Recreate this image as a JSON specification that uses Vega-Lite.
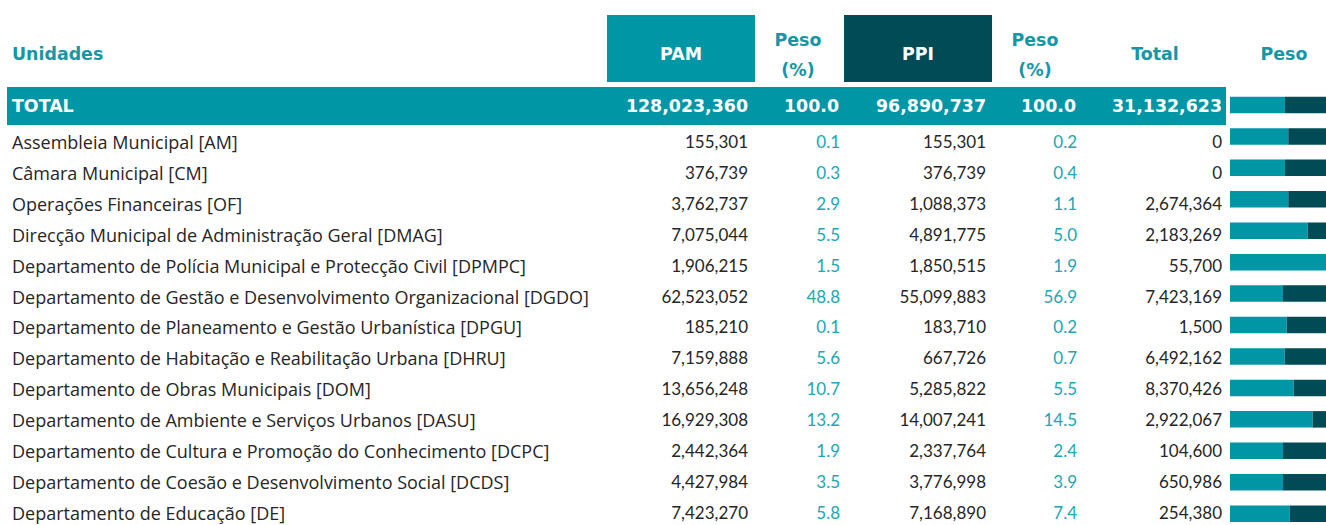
{
  "$schema": "https://vega.github.io/schema/vega-lite/v6.json",
  "padding": 0,
  "spacing": 0,
  "background": "white",
  "config": {"view": {"stroke": null}, "text": {"font": "Lato"}},
  "datasets": {
    "rows": [
      {"n": 0, "name": "TOTAL", "PAM": 128023360, "pesoPAM": 100.0, "PPI": 96890737, "pesoPPI": 100.0, "Total": 31132623, "pamPart": 57.3, "ppiPart": 42.7},
      {"n": 1, "name": "Assembleia Municipal [AM]", "PAM": 155301, "pesoPAM": 0.1, "PPI": 155301, "pesoPPI": 0.2, "Total": 0, "pamPart": 60.7, "ppiPart": 39.3},
      {"n": 2, "name": "Câmara Municipal [CM]", "PAM": 376739, "pesoPAM": 0.3, "PPI": 376739, "pesoPPI": 0.4, "Total": 0, "pamPart": 57.3, "ppiPart": 42.7},
      {"n": 3, "name": "Operações Financeiras [OF]", "PAM": 3762737, "pesoPAM": 2.9, "PPI": 1088373, "pesoPPI": 1.1, "Total": 2674364, "pamPart": 60.7, "ppiPart": 39.3},
      {"n": 4, "name": "Direcção Municipal de Administração Geral [DMAG]", "PAM": 7075044, "pesoPAM": 5.5, "PPI": 4891775, "pesoPPI": 5.0, "Total": 2183269, "pamPart": 80.9, "ppiPart": 19.1},
      {"n": 5, "name": "Departamento de Polícia Municipal e Protecção Civil [DPMPC]", "PAM": 1906215, "pesoPAM": 1.5, "PPI": 1850515, "pesoPPI": 1.9, "Total": 55700, "pamPart": 100, "ppiPart": 0},
      {"n": 6, "name": "Departamento de Gestão e Desenvolvimento Organizacional [DGDO]", "PAM": 62523052, "pesoPAM": 48.8, "PPI": 55099883, "pesoPPI": 56.9, "Total": 7423169, "pamPart": 55.2, "ppiPart": 44.8},
      {"n": 7, "name": "Departamento de Planeamento e Gestão Urbanística [DPGU]", "PAM": 185210, "pesoPAM": 0.1, "PPI": 183710, "pesoPPI": 0.2, "Total": 1500, "pamPart": 59.1, "ppiPart": 40.9},
      {"n": 8, "name": "Departamento de Habitação e Reabilitação Urbana [DHRU]", "PAM": 7159888, "pesoPAM": 5.6, "PPI": 667726, "pesoPPI": 0.7, "Total": 6492162, "pamPart": 57.0, "ppiPart": 43.0},
      {"n": 9, "name": "Departamento de Obras Municipais [DOM]", "PAM": 13656248, "pesoPAM": 10.7, "PPI": 5285822, "pesoPPI": 5.5, "Total": 8370426, "pamPart": 66.4, "ppiPart": 33.6},
      {"n": 10, "name": "Departamento de Ambiente e Serviços Urbanos [DASU]", "PAM": 16929308, "pesoPAM": 13.2, "PPI": 14007241, "pesoPPI": 14.5, "Total": 2922067, "pamPart": 86.1, "ppiPart": 13.9},
      {"n": 11, "name": "Departamento de Cultura e Promoção do Conhecimento [DCPC]", "PAM": 2442364, "pesoPAM": 1.9, "PPI": 2337764, "pesoPPI": 2.4, "Total": 104600, "pamPart": 55.2, "ppiPart": 44.8},
      {"n": 12, "name": "Departamento de Coesão e Desenvolvimento Social [DCDS]", "PAM": 4427984, "pesoPAM": 3.5, "PPI": 3776998, "pesoPPI": 3.9, "Total": 650986, "pamPart": 55.2, "ppiPart": 44.8},
      {"n": 13, "name": "Departamento de Educação [DE]", "PAM": 7423270, "pesoPAM": 5.8, "PPI": 7168890, "pesoPPI": 7.4, "Total": 254380, "pamPart": 62.2, "ppiPart": 37.8}
    ],
    "one": [{"k": 1}]
  },
  "hconcat": [
    {
      "width": 1226,
      "height": 525,
      "data": {"name": "rows"},
      "layer": [
        {
          "data": {"name": "one"},
          "mark": {"type": "rect", "fill": "#0096a6"},
          "encoding": {
            "x": {"datum": 7, "type": "quantitative", "scale": {"domain": [0, 1226], "nice": false, "zero": false, "padding": 0}, "axis": null},
            "x2": {"datum": 1226},
            "y": {"datum": -0.812, "type": "quantitative", "scale": {"domain": [-3.628, 13.362], "reverse": true, "nice": false, "zero": false, "padding": 0}, "axis": null},
            "y2": {"datum": 0.4175}
          }
        },
        {
          "data": {"name": "one"},
          "mark": {"type": "rect", "fill": "#0096a6"},
          "encoding": {
            "x": {"datum": 607, "type": "quantitative"},
            "x2": {"datum": 755},
            "y": {"datum": -3.142, "type": "quantitative"},
            "y2": {"datum": -0.974}
          }
        },
        {
          "data": {"name": "one"},
          "mark": {"type": "rect", "fill": "#004b55"},
          "encoding": {
            "x": {"datum": 844, "type": "quantitative"},
            "x2": {"datum": 992},
            "y": {"datum": -3.142, "type": "quantitative"},
            "y2": {"datum": -0.974}
          }
        },
        {
          "data": {"name": "one"},
          "mark": {"type": "text", "text": "Unidades", "font": "DejaVu Sans", "align": "left", "baseline": "middle", "fontSize": 17.4, "fontWeight": "bold", "color": "#1597a5", "yOffset": 5},
          "encoding": {"x": {"datum": 12, "type": "quantitative"}, "y": {"datum": -2, "type": "quantitative"}}
        },
        {
          "data": {"name": "one"},
          "mark": {"type": "text", "text": "PAM", "font": "DejaVu Sans", "align": "center", "baseline": "middle", "fontSize": 17.4, "fontWeight": "bold", "color": "white", "yOffset": 5},
          "encoding": {"x": {"datum": 681, "type": "quantitative"}, "y": {"datum": -2, "type": "quantitative"}}
        },
        {
          "data": {"name": "one"},
          "mark": {"type": "text", "text": "PPI", "font": "DejaVu Sans", "align": "center", "baseline": "middle", "fontSize": 17.4, "fontWeight": "bold", "color": "white", "yOffset": 5},
          "encoding": {"x": {"datum": 918, "type": "quantitative"}, "y": {"datum": -2, "type": "quantitative"}}
        },
        {
          "data": {"name": "one"},
          "mark": {"type": "text", "text": ["Peso", "(%)"], "font": "DejaVu Sans", "lineHeight": 30, "align": "center", "baseline": "middle", "fontSize": 17.4, "fontWeight": "bold", "color": "#1597a5", "yOffset": -9},
          "encoding": {"x": {"datum": 798, "type": "quantitative"}, "y": {"datum": -2, "type": "quantitative"}}
        },
        {
          "data": {"name": "one"},
          "mark": {"type": "text", "text": ["Peso", "(%)"], "font": "DejaVu Sans", "lineHeight": 30, "align": "center", "baseline": "middle", "fontSize": 17.4, "fontWeight": "bold", "color": "#1597a5", "yOffset": -9},
          "encoding": {"x": {"datum": 1035, "type": "quantitative"}, "y": {"datum": -2, "type": "quantitative"}}
        },
        {
          "data": {"name": "one"},
          "mark": {"type": "text", "text": "Total", "font": "DejaVu Sans", "align": "center", "baseline": "middle", "fontSize": 17.4, "fontWeight": "bold", "color": "#1597a5", "yOffset": 5},
          "encoding": {"x": {"datum": 1155, "type": "quantitative"}, "y": {"datum": -2, "type": "quantitative"}}
        },
        {
          "transform": [{"filter": "datum.n == 0"}],
          "mark": {"type": "text", "font": "DejaVu Sans", "align": "left", "baseline": "middle", "fontSize": 17.4, "fontWeight": "bold", "color": "white", "yOffset": -5},
          "encoding": {"x": {"datum": 12, "type": "quantitative"}, "y": {"field": "n", "type": "quantitative"}, "text": {"field": "name", "type": "nominal"}}
        },
        {
          "transform": [{"filter": "datum.n == 0"}],
          "mark": {"type": "text", "font": "DejaVu Sans", "align": "right", "baseline": "middle", "fontSize": 17.4, "fontWeight": "bold", "color": "white", "yOffset": -5},
          "encoding": {"x": {"datum": 748, "type": "quantitative"}, "y": {"field": "n", "type": "quantitative"}, "text": {"field": "PAM", "type": "quantitative", "format": ","}}
        },
        {
          "transform": [{"filter": "datum.n == 0"}],
          "mark": {"type": "text", "font": "DejaVu Sans", "align": "right", "baseline": "middle", "fontSize": 17.4, "fontWeight": "bold", "color": "white", "yOffset": -5},
          "encoding": {"x": {"datum": 839, "type": "quantitative"}, "y": {"field": "n", "type": "quantitative"}, "text": {"field": "pesoPAM", "type": "quantitative", "format": ".1f"}}
        },
        {
          "transform": [{"filter": "datum.n == 0"}],
          "mark": {"type": "text", "font": "DejaVu Sans", "align": "right", "baseline": "middle", "fontSize": 17.4, "fontWeight": "bold", "color": "white", "yOffset": -5},
          "encoding": {"x": {"datum": 986, "type": "quantitative"}, "y": {"field": "n", "type": "quantitative"}, "text": {"field": "PPI", "type": "quantitative", "format": ","}}
        },
        {
          "transform": [{"filter": "datum.n == 0"}],
          "mark": {"type": "text", "font": "DejaVu Sans", "align": "right", "baseline": "middle", "fontSize": 17.4, "fontWeight": "bold", "color": "white", "yOffset": -5},
          "encoding": {"x": {"datum": 1076, "type": "quantitative"}, "y": {"field": "n", "type": "quantitative"}, "text": {"field": "pesoPPI", "type": "quantitative", "format": ".1f"}}
        },
        {
          "transform": [{"filter": "datum.n == 0"}],
          "mark": {"type": "text", "font": "DejaVu Sans", "align": "right", "baseline": "middle", "fontSize": 17.4, "fontWeight": "bold", "color": "white", "yOffset": -5},
          "encoding": {"x": {"datum": 1222, "type": "quantitative"}, "y": {"field": "n", "type": "quantitative"}, "text": {"field": "Total", "type": "quantitative", "format": ","}}
        },
        {
          "transform": [{"filter": "datum.n > 0"}],
          "mark": {"type": "text", "font": "Open Sans", "align": "left", "baseline": "middle", "fontSize": 18, "color": "#262626", "yOffset": 1},
          "encoding": {"x": {"datum": 12, "type": "quantitative"}, "y": {"field": "n", "type": "quantitative"}, "text": {"field": "name", "type": "nominal"}}
        },
        {
          "transform": [{"filter": "datum.n > 0"}],
          "mark": {"type": "text", "align": "right", "baseline": "middle", "fontSize": 17, "color": "#262626"},
          "encoding": {"x": {"datum": 748, "type": "quantitative"}, "y": {"field": "n", "type": "quantitative"}, "text": {"field": "PAM", "type": "quantitative", "format": ","}}
        },
        {
          "transform": [{"filter": "datum.n > 0"}],
          "mark": {"type": "text", "align": "right", "baseline": "middle", "fontSize": 17, "color": "#21a6b3"},
          "encoding": {"x": {"datum": 840, "type": "quantitative"}, "y": {"field": "n", "type": "quantitative"}, "text": {"field": "pesoPAM", "type": "quantitative", "format": ".1f"}}
        },
        {
          "transform": [{"filter": "datum.n > 0"}],
          "mark": {"type": "text", "align": "right", "baseline": "middle", "fontSize": 17, "color": "#262626"},
          "encoding": {"x": {"datum": 986, "type": "quantitative"}, "y": {"field": "n", "type": "quantitative"}, "text": {"field": "PPI", "type": "quantitative", "format": ","}}
        },
        {
          "transform": [{"filter": "datum.n > 0"}],
          "mark": {"type": "text", "align": "right", "baseline": "middle", "fontSize": 17, "color": "#21a6b3"},
          "encoding": {"x": {"datum": 1077, "type": "quantitative"}, "y": {"field": "n", "type": "quantitative"}, "text": {"field": "pesoPPI", "type": "quantitative", "format": ".1f"}}
        },
        {
          "transform": [{"filter": "datum.n > 0"}],
          "mark": {"type": "text", "align": "right", "baseline": "middle", "fontSize": 17, "color": "#262626"},
          "encoding": {"x": {"datum": 1222, "type": "quantitative"}, "y": {"field": "n", "type": "quantitative"}, "text": {"field": "Total", "type": "quantitative", "format": ","}}
        }
      ]
    },
    {
      "width": 100,
      "height": 525,
      "data": {"name": "rows"},
      "transform": [{"fold": ["pamPart", "ppiPart"], "as": ["part", "value"]}],
      "layer": [
        {
          "mark": {"type": "bar", "height": 16.5, "orient": "horizontal"},
          "encoding": {
            "x": {"field": "value", "type": "quantitative", "stack": "zero", "scale": {"domain": [-4.1667, 100], "nice": false, "zero": false, "padding": 0}, "axis": null},
            "y": {"field": "n", "type": "quantitative", "scale": {"domain": [-3.338, 13.36], "reverse": true, "nice": false, "zero": false, "padding": 0}, "axis": null},
            "color": {"field": "part", "type": "nominal", "scale": {"domain": ["pamPart", "ppiPart"], "range": ["#0096a6", "#004b55"]}, "legend": null},
            "order": {"field": "part", "type": "nominal"}
          }
        },
        {
          "data": {"name": "one"},
          "mark": {"type": "text", "text": "Peso", "font": "DejaVu Sans", "align": "center", "baseline": "middle", "fontSize": 17.4, "fontWeight": "bold", "color": "#1597a5"},
          "encoding": {"x": {"datum": 56.25, "type": "quantitative"}, "y": {"datum": -1.586, "type": "quantitative"}}
        }
      ]
    }
  ]
}
